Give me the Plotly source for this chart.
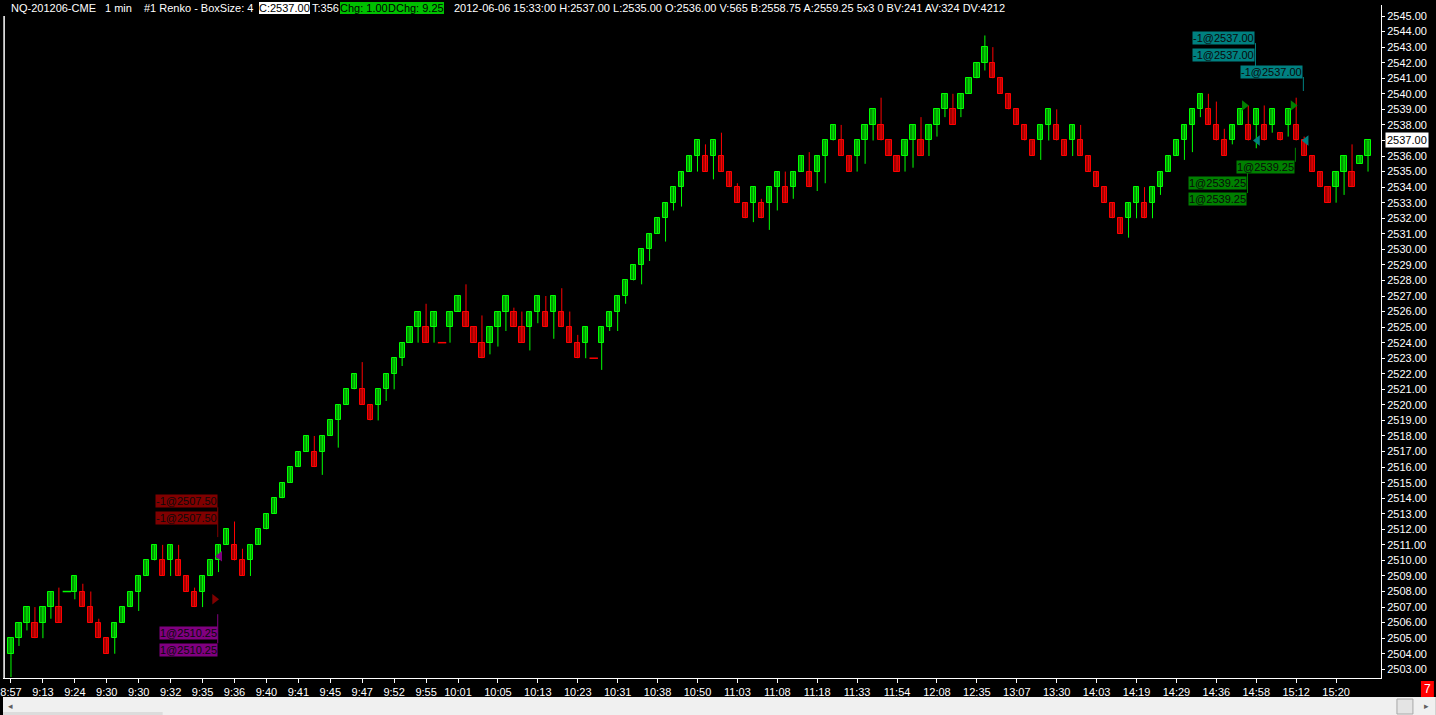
import plotly.graph_objects as go

# ---------------- data ----------------
bar_open = [
    2504, 2505, 2506, 2506, 2506, 2507, 2507, 2508, 2508, 2508,
    2507, 2506, 2505, 2505, 2506, 2507, 2508, 2509, 2510, 2510,
    2510, 2510, 2509, 2508, 2508, 2509, 2510, 2511, 2511, 2510,
    2510, 2511, 2512, 2513, 2514, 2515, 2516, 2517, 2517, 2517,
    2518, 2519, 2520, 2521, 2521, 2520, 2520, 2521, 2522, 2523,
    2524, 2525, 2525, 2525, 2524, 2525, 2526, 2526, 2525, 2524,
    2524, 2525, 2526, 2526, 2525, 2525, 2526, 2526, 2526, 2526,
    2525, 2524, 2524, 2523, 2524, 2525, 2526, 2527, 2528, 2529,
    2530, 2531, 2532, 2533, 2534, 2535, 2536, 2536, 2536, 2536,
    2535, 2534, 2533, 2533, 2533, 2533, 2534, 2534, 2534, 2535,
    2535, 2535, 2536, 2537, 2537, 2536, 2536, 2537, 2538, 2538,
    2537, 2536, 2536, 2537, 2537, 2537, 2538, 2539, 2539, 2539,
    2540, 2541, 2542, 2542, 2541, 2540, 2539, 2538, 2537, 2537,
    2538, 2538, 2537, 2537, 2537, 2536, 2535, 2534, 2533, 2532,
    2532, 2533, 2533, 2533, 2534, 2535, 2536, 2537, 2538, 2539,
    2539, 2538, 2537, 2537, 2538, 2538, 2538, 2538, 2538, 2537.5,
    2538, 2538, 2537, 2536, 2535, 2534, 2534, 2535, 2535, 2535.5,
    2536,
]
bar_close = [
    2505, 2506, 2507, 2505, 2507, 2508, 2506, 2508, 2509, 2507,
    2506, 2505, 2504, 2506, 2507, 2508, 2509, 2510, 2511, 2509,
    2511, 2509, 2508, 2507, 2509, 2510, 2511, 2512, 2510, 2509,
    2511, 2512, 2513, 2514, 2515, 2516, 2517, 2518, 2516, 2518,
    2519, 2520, 2521, 2522, 2520, 2519, 2521, 2522, 2523, 2524,
    2525, 2526, 2524, 2526, 2524, 2526, 2527, 2525, 2524, 2523,
    2525, 2526, 2527, 2525, 2524, 2526, 2527, 2525, 2527, 2525,
    2524, 2523, 2525, 2523, 2525, 2526, 2527, 2528, 2529, 2530,
    2531, 2532, 2533, 2534, 2535, 2536, 2537, 2535, 2537, 2535,
    2534, 2533, 2532, 2534, 2532, 2534, 2535, 2533, 2535, 2536,
    2534, 2536, 2537, 2538, 2536, 2535, 2537, 2538, 2539, 2537,
    2536, 2535, 2537, 2538, 2536, 2538, 2539, 2540, 2538, 2540,
    2541, 2542, 2543, 2541, 2540, 2539, 2538, 2537, 2536, 2538,
    2539, 2537, 2536, 2538, 2536, 2535, 2534, 2533, 2532, 2531,
    2533, 2534, 2532, 2534, 2535, 2536, 2537, 2538, 2539, 2540,
    2538, 2537, 2536, 2538, 2539, 2537, 2539, 2537, 2539, 2537,
    2539, 2537, 2536, 2535, 2534, 2533, 2535, 2536, 2534, 2536,
    2537,
]
bar_high = [
    2505, 2506, 2507, 2507, 2507, 2508, 2508.25, 2508, 2509, 2508.5,
    2508, 2506.25, 2505, 2506, 2507, 2508, 2509, 2510, 2511, 2511,
    2511, 2511, 2509, 2508.25, 2509, 2510, 2511, 2512, 2512.5, 2510.75,
    2511, 2512, 2513, 2514, 2515, 2516, 2517, 2518, 2518, 2518,
    2519, 2520, 2521, 2522, 2522.75, 2520, 2521, 2522, 2523, 2524,
    2525, 2526, 2526.5, 2526, 2524, 2526, 2527, 2527.75, 2525, 2525.75,
    2525, 2526, 2527, 2526.25, 2526, 2526, 2527, 2527, 2527, 2527.5,
    2526, 2524.5, 2525, 2523, 2525, 2526, 2527, 2528, 2529, 2530,
    2531, 2532, 2533, 2534, 2535, 2536, 2537, 2536.75, 2537, 2537.5,
    2535, 2534.25, 2533, 2534, 2533.25, 2534, 2535, 2535, 2535, 2536,
    2536.25, 2536, 2537, 2538, 2538, 2536, 2537, 2538, 2539, 2539.75,
    2537, 2536, 2537, 2538, 2538.5, 2538, 2539, 2540, 2540, 2540,
    2541, 2542, 2543.75, 2543, 2541, 2540, 2539, 2538, 2537, 2538,
    2539, 2539, 2537, 2538, 2538, 2536, 2535, 2534, 2533, 2532,
    2533, 2534, 2534, 2534, 2535, 2536, 2537, 2538, 2539, 2540,
    2540, 2539.5, 2537.75, 2538, 2539, 2539.25, 2539, 2539.25, 2539, 2537.5,
    2539, 2539.75, 2537.25, 2536, 2535, 2534, 2535, 2536, 2536.75, 2536,
    2537,
]
bar_low = [
    2502.5, 2504.5, 2505.5, 2505, 2505, 2506.25, 2506, 2508, 2507.5, 2507,
    2506, 2505, 2504, 2504, 2506, 2507, 2506.75, 2509, 2510, 2509,
    2509, 2509, 2508, 2507, 2507, 2509, 2509.25, 2511, 2510, 2509,
    2509, 2511, 2512, 2513, 2514, 2515, 2516, 2517, 2516, 2515.5,
    2518, 2517.25, 2520, 2521, 2520, 2519, 2519, 2520.25, 2521, 2522.5,
    2524, 2524, 2524, 2524, 2524, 2524, 2526, 2525, 2524, 2523,
    2523.25, 2523.75, 2524.75, 2525, 2524, 2523.5, 2525.25, 2525, 2524.25, 2525,
    2524, 2523, 2523, 2523, 2522.25, 2524.75, 2524.75, 2526.5, 2528, 2527.75,
    2529.25, 2531, 2530.5, 2532.5, 2532.75, 2535, 2535, 2535, 2534.5, 2535,
    2534, 2533, 2532, 2531.75, 2532, 2531.25, 2532.5, 2533, 2533.25, 2535,
    2534, 2533.75, 2534.25, 2537, 2536, 2535, 2535, 2535.5, 2537, 2537,
    2536, 2535, 2535, 2535.25, 2536, 2536, 2537.25, 2538.5, 2538, 2538.5,
    2540, 2541, 2541.5, 2541, 2540, 2539, 2538, 2537, 2536, 2535.75,
    2537, 2537, 2536, 2536, 2536, 2535, 2534, 2533, 2532, 2531,
    2530.75, 2532, 2532, 2532, 2533.5, 2535, 2536, 2535.75, 2536.25, 2538.5,
    2538, 2537, 2536, 2536.75, 2538, 2537, 2536.5, 2537, 2537.5, 2537,
    2537.25, 2537, 2536, 2535, 2534, 2533, 2533, 2533.5, 2534, 2535.5,
    2535,
]

tick_bars = [1, 5, 9, 13, 17, 21, 25, 29, 33, 37, 41, 45, 49, 53, 57,
             62, 67, 72, 77, 82, 87, 92, 97, 102, 107, 112, 117, 122, 127,
             132, 137, 142, 147, 152, 157, 162, 167]
tick_times = ["8:57", "9:13", "9:24", "9:30", "9:30", "9:32", "9:35", "9:36",
              "9:40", "9:41", "9:45", "9:47", "9:52", "9:55", "10:01",
              "10:05", "10:13", "10:23", "10:31", "10:38", "10:50", "11:03",
              "11:08", "11:18", "11:33", "11:54", "12:08", "12:35", "13:07",
              "13:30", "14:03", "14:19", "14:29", "14:36", "14:58", "15:12",
              "15:20"]
price_ticks = list(range(2503, 2546))
last_price = 2537.00

# trade labels: text, bar it hangs from, price of the label, colour
trade_text = ["-1@2507.50", "-1@2507.50", "1@2510.25", "1@2510.25",
              "-1@2537.00", "-1@2537.00", "-1@2537.00",
              "1@2539.25", "1@2539.25", "1@2539.25"]
trade_bar = [27, 27, 27, 27, 157, 157, 163, 162, 156, 156]
trade_lbl_price = [2513.84, 2512.75, 2505.35, 2504.26,
                   2543.62, 2542.50, 2541.43, 2535.29, 2534.29, 2533.23]
trade_color = ["#800000", "#800000", "#800080", "#800080",
               "#008080", "#008080", "#008080", "#008000", "#008000", "#008000"]
# connector lines of the labels: bar, price from, price to, colour
conn_bar = [27, 27, 157, 163, 162, 156]
conn_p0 = [2513.42, 2506.54, 2543.26, 2541.08, 2536.53, 2534.92]
conn_p1 = [2511.50, 2504.67, 2541.78, 2540.18, 2535.63, 2533.62]
conn_color = ["#800000", "#800080", "#008080", "#008080", "#008000", "#008000"]
# fill markers (triangles)
fill_x = [27.15, 26.5, 155.5, 161.6, 157.15, 163.25]
fill_price = [2510.27, 2507.5, 2539.25, 2539.25, 2537.0, 2537.0]
fill_symbol = ["triangle-left", "triangle-right", "triangle-right",
               "triangle-right", "triangle-left", "triangle-left"]
fill_color = ["#800080", "#800000", "#008000", "#008000", "#008080", "#008080"]

# header pieces: left pixel, text, text colour, background
header_px = [8, 102, 141, 257, 310, 338, 386, 452]
header_text = ["NQ-201206-CME", "1 min", "#1 Renko - BoxSize: 4", "C:2537.00",
               "T:356", "Chg: 1.00", "DChg: 9.25",
               "2012-06-06 15:33:00 H:2537.00 L:2535.00 O:2536.00 V:565 "
               "B:2558.75 A:2559.25 5x3 0 BV:241 AV:324 DV:4212"]
header_fg = ["white", "white", "white", "black", "white", "black", "black", "white"]
header_bg = [None, None, None, "white", None, "#00c000", "#00c000", None]

# ---------------- geometry / styles ----------------
W, H = 1436, 715
ML, MR, MT, MB = 0, 55, 5, 37
PW, PH = W - ML - MR, H - MT - MB

UP_LINE, UP_FILL = "#00ff00", "#009600"
DN_LINE, DN_FILL = "#ff0000", "#a00000"
FONT = "Liberation Sans"


def px_x(px):
    return (px - ML) / PW


def px_y(py):
    return (H - MB - py) / PH


n = len(bar_open)
xs = list(range(1, n + 1))
dirs = []
prev = None
for o, c in zip(bar_open, bar_close):
    if c > o:
        d = 1
    elif c < o:
        d = -1
    else:
        d = 1 if (prev is not None and c > prev) else -1
    dirs.append(d)
    prev = c

fig = go.Figure()

# wicks
for d, col in ((1, UP_LINE), (-1, DN_LINE)):
    wx, wy = [], []
    for i in range(n):
        if dirs[i] == d and bar_high[i] > bar_low[i]:
            wx += [xs[i], xs[i], None]
            wy += [bar_low[i], bar_high[i], None]
    fig.add_trace(go.Scatter(x=wx, y=wy, mode="lines",
                             line=dict(color=col, width=1),
                             hoverinfo="skip", showlegend=False))

# bodies
bx, bh, bb, bf, bl = [], [], [], [], []
fx, fy, fc = [], [], []
for i in range(n):
    o, c = bar_open[i], bar_close[i]
    if o == c:
        fx.append(xs[i]); fy.append(o)
        fc.append(UP_LINE if dirs[i] > 0 else DN_LINE)
        continue
    bx.append(xs[i]); bh.append(abs(c - o)); bb.append(min(o, c))
    bf.append(UP_FILL if dirs[i] > 0 else DN_FILL)
    bl.append(UP_LINE if dirs[i] > 0 else DN_LINE)
fig.add_trace(go.Bar(x=bx, y=bh, base=bb, width=0.66,
                     marker=dict(color=bf, line=dict(color=bl, width=1)),
                     hoverinfo="skip", showlegend=False))
fig.add_trace(go.Scatter(x=fx, y=fy, mode="markers",
                         marker=dict(symbol="line-ew", size=6,
                                     line=dict(color=fc, width=1.5)),
                         hoverinfo="skip", showlegend=False))

# trade fill triangles
fig.add_trace(go.Scatter(x=fill_x, y=fill_price, mode="markers",
                         marker=dict(symbol=fill_symbol, size=9, color=fill_color,
                                     line=dict(width=0)),
                         hoverinfo="skip", showlegend=False))

shapes = []
for b, p0, p1, col in zip(conn_bar, conn_p0, conn_p1, conn_color):
    shapes.append(dict(type="line", xref="x", yref="y", x0=b - 0.1, x1=b - 0.1,
                       y0=p0, y1=p1, line=dict(color=col, width=1)))
# left border line
shapes.append(dict(type="line", xref="paper", yref="paper", x0=0.0008, x1=0.0008,
                   y0=0, y1=px_y(16), line=dict(color="white", width=1.5)))
# scrollbar strip
shapes.append(dict(type="rect", xref="paper", yref="paper", x0=px_x(0), x1=px_x(W),
                   y0=px_y(715), y1=px_y(697), fillcolor="#f0f0f0",
                   line=dict(width=0), layer="above"))
shapes.append(dict(type="rect", xref="paper", yref="paper", x0=px_x(0), x1=px_x(160),
                   y0=px_y(715), y1=px_y(712), fillcolor="#dcdcdc",
                   line=dict(width=0), layer="above"))
shapes.append(dict(type="rect", xref="paper", yref="paper", x0=px_x(1397), x1=px_x(1413),
                   y0=px_y(714), y1=px_y(699), fillcolor="#e4e4e4",
                   line=dict(color="#a8a8a8", width=1), layer="above"))
shapes.append(dict(type="rect", xref="paper", yref="paper", x0=px_x(1421), x1=px_x(1434),
                   y0=px_y(697), y1=px_y(681), fillcolor="#ff0000",
                   line=dict(width=0), layer="above"))

ann = []
for t, b, p, col in zip(trade_text, trade_bar, trade_lbl_price, trade_color):
    ann.append(dict(x=b - 0.1, y=p, xref="x", yref="y", text=t, showarrow=False,
                    xanchor="right", yanchor="middle", bgcolor=col, borderpad=0,
                    font=dict(family=FONT, size=11, color="#0a0a0a")))

# header
hy = px_y(8)
for px, t, fc_, bg in zip(header_px, header_text, header_fg, header_bg):
    a = dict(x=px_x(px), y=hy, xref="paper", yref="paper", text=t, showarrow=False,
             xanchor="left", yanchor="middle", borderpad=0, borderwidth=0,
             font=dict(family=FONT, size=11, color=fc_))
    if bg:
        a["bgcolor"] = bg
    ann.append(a)

# last price label on axis
ann.append(dict(x=px_x(1385), y=last_price, xref="paper", yref="y",
                text=f"{last_price:.2f}", showarrow=False, xanchor="left",
                yanchor="middle", bgcolor="white", borderpad=1,
                font=dict(family=FONT, size=11, color="black")))
# red counter box and scroll arrows
ann.append(dict(x=px_x(1427.5), y=px_y(689), xref="paper", yref="paper", text="7",
                showarrow=False, xanchor="center", yanchor="middle",
                font=dict(family=FONT, size=12, color="white")))
ann.append(dict(x=px_x(8), y=px_y(706), xref="paper", yref="paper", text="◂",
                showarrow=False, xanchor="center", yanchor="middle",
                font=dict(family=FONT, size=9, color="#606060")))
ann.append(dict(x=px_x(1427), y=px_y(706), xref="paper", yref="paper", text="▸",
                showarrow=False, xanchor="center", yanchor="middle",
                font=dict(family=FONT, size=9, color="#606060")))

fig.update_layout(
    width=W, height=H,
    margin=dict(l=ML, r=MR, t=MT, b=MB, pad=0),
    paper_bgcolor="black", plot_bgcolor="black",
    barmode="overlay", bargap=0,
    showlegend=False,
    shapes=shapes, annotations=ann,
    font=dict(family=FONT, size=11, color="white"),
    xaxis=dict(range=[0, (W - ML - MR) / 8], tickvals=tick_bars, ticktext=tick_times,
               showgrid=False, zeroline=False, showline=True, linecolor="white",
               linewidth=1, ticks="outside", ticklen=4, tickcolor="white",
               ticklabeloverflow="allow",
               tickfont=dict(family=FONT, size=11, color="white"), fixedrange=True),
    yaxis=dict(range=[2502.44, 2545.71], side="right", tickvals=price_ticks,
               ticktext=[f"{v:.2f}" for v in price_ticks],
               showgrid=False, zeroline=False, showline=True, linecolor="white",
               linewidth=1, ticks="outside", ticklen=3, tickcolor="white",
               ticklabeloverflow="allow",
               tickfont=dict(family=FONT, size=11, color="white"), fixedrange=True),
)

fig.write_html(
    "out.html",
    config={"displayModeBar": False},
    post_script="document.body.style.margin='0';document.body.style.padding='0';"
                "document.body.style.overflow='hidden';",
)
